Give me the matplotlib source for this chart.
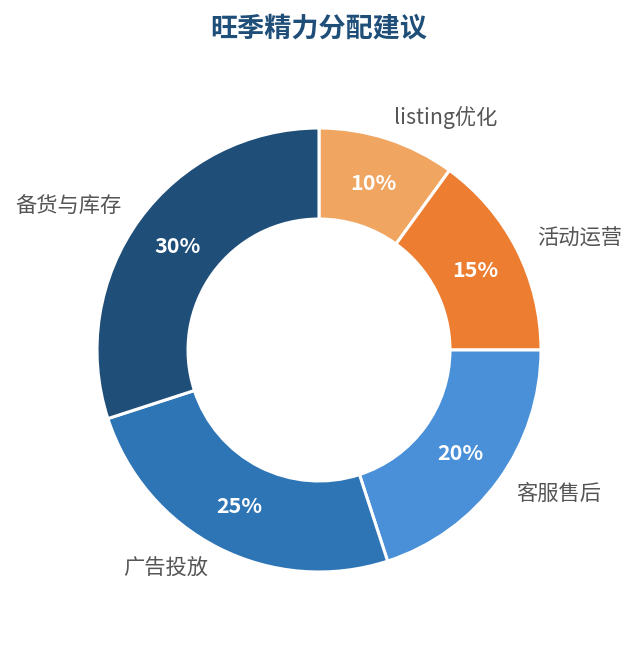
import numpy as np
import matplotlib
matplotlib.use("Agg")
import matplotlib.pyplot as plt

plt.rcParams['font.family'] = ['Noto Sans CJK SC', 'DejaVu Sans']

# data (clockwise from 12 o'clock)
labels = ['listing优化', '活动运营', '客服售后', '广告投放', '备货与库存']
values = [10, 15, 20, 25, 30]
colors = ['#F0A561', '#ED7D31', '#4A90D9', '#2E75B6', '#1F4E79']

W, H = 637, 645
cx, cy = 319, 350          # pie center in pixels (from top-left)
R = 222                    # outer radius in pixels

fig = plt.figure(figsize=(W / 100, H / 100), dpi=100)
ax = fig.add_axes([0, 0, 1, 1])

wedges, _ = ax.pie(values, colors=colors, startangle=90, counterclock=False,
                   radius=1.0, wedgeprops=dict(width=0.41, edgecolor='white', linewidth=2.2))

# fix the scale so the ring sits where the reference has it
ax.set_aspect('auto')
ax.set_xlim(-cx / R, (W - cx) / R)
ax.set_ylim(-(H - cy) / R, cy / R)
ax.axis('off')

total = sum(values)
for w, lab, v in zip(wedges, labels, values):
    ang = np.deg2rad((w.theta1 + w.theta2) / 2)
    ca, sa = np.cos(ang), np.sin(ang)
    ax.text(0.79 * ca, 0.79 * sa, f'{v / total * 100:.0f}%', ha='center', va='center',
            color='white', fontsize=15.5, fontweight='bold')
    ax.text(1.1 * ca, 1.1 * sa, lab, ha='left' if ca >= 0 else 'right', va='center',
            color='#555555', fontsize=15.3)

fig.text(0.5, 1 - 29 / H, '旺季精力分配建议', ha='center', va='center',
         fontsize=19.5, fontweight='bold', color='#1F4E79')

fig.savefig('out.png', dpi=100, facecolor='white')
